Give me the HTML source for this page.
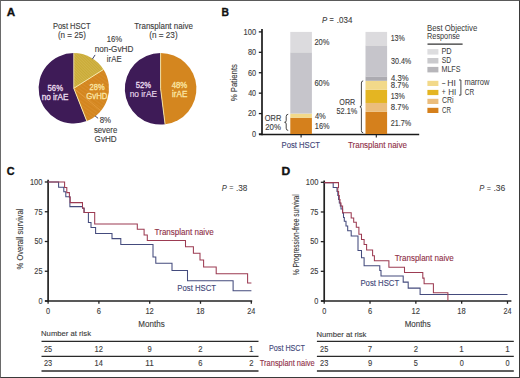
<!DOCTYPE html>
<html><head><meta charset="utf-8">
<style>
html,body{margin:0;padding:0;background:#fff;}
body{width:520px;height:378px;overflow:hidden;position:relative;}
.frame{position:absolute;left:0;top:0;width:518px;height:376px;border:1px solid #555;border-left-color:#6a6a6a;border-top-color:#5a5a5a;border-right-color:#3a3a3a;border-bottom-color:#3a3a3a;}
svg{position:absolute;left:0;top:0;}
svg text{font-family:"Liberation Sans", sans-serif;}
</style></head>
<body>
<svg width="520" height="378" viewBox="0 0 520 378">
<rect x="0" y="0" width="520" height="378" fill="#fff"/>
<defs>
<pattern id="hatchO" patternUnits="userSpaceOnUse" width="2" height="2" patternTransform="rotate(45)">
<rect width="2" height="2" fill="#c9aa37"/><rect width="2" height="0.6" fill="#d8bd55"/></pattern>
<pattern id="hatchG" patternUnits="userSpaceOnUse" width="3" height="3" patternTransform="rotate(35)">
<rect width="3" height="3" fill="#d4861f"/><rect width="3" height="0.6" fill="#d99030"/></pattern>
</defs>
<text x="6.81" y="15.90" font-size="11.66" fill="#111" stroke="#111" stroke-width="0.35" font-weight="bold" font-style="normal" text-anchor="start" textLength="8.41" lengthAdjust="spacingAndGlyphs">A</text>
<text x="52.88" y="28.80" font-size="8.48" fill="#3c3c3c" stroke="#3c3c3c" stroke-width="0.12" font-weight="normal" font-style="normal" text-anchor="start" textLength="37.80" lengthAdjust="spacingAndGlyphs">Post HSCT</text>
<text x="57.90" y="37.70" font-size="8.48" fill="#3c3c3c" stroke="#3c3c3c" stroke-width="0.12" font-weight="normal" font-style="normal" text-anchor="start" textLength="27.92" lengthAdjust="spacingAndGlyphs">(n = 25)</text>
<text x="134.22" y="28.80" font-size="8.48" fill="#3c3c3c" stroke="#3c3c3c" stroke-width="0.12" font-weight="normal" font-style="normal" text-anchor="start" textLength="58.63" lengthAdjust="spacingAndGlyphs">Transplant naive</text>
<text x="149.29" y="37.70" font-size="8.48" fill="#3c3c3c" stroke="#3c3c3c" stroke-width="0.12" font-weight="normal" font-style="normal" text-anchor="start" textLength="28.33" lengthAdjust="spacingAndGlyphs">(n = 23)</text>
<path d="M73.80,88.30 L86.76,121.03 A35.2,35.2 0 1 1 73.80,53.10 Z" fill="#3e1b57" />
<path d="M73.80,88.30 L73.80,53.10 A35.2,35.2 0 0 1 103.52,69.44 Z" fill="url(#hatchO)" />
<path d="M73.80,88.30 L103.52,69.44 A35.2,35.2 0 0 1 86.76,121.03 Z" fill="url(#hatchG)" />
<line x1="73.80" y1="88.30" x2="103.52" y2="69.44" stroke="#f7e9a8" stroke-width="1.0"/>
<line x1="73.80" y1="88.30" x2="100.92" y2="110.74" stroke="#e6a040" stroke-width="0.8"/>
<line x1="73.80" y1="88.30" x2="86.76" y2="121.03" stroke="#f7e9a8" stroke-width="1.0"/>
<line x1="73.80" y1="88.30" x2="73.80" y2="53.10" stroke="#f7e9a8" stroke-width="0.8"/>
<path d="M160.60,88.80 L165.09,124.32 A35.8,35.8 0 1 1 160.60,53.00 Z" fill="#3e1b57" />
<path d="M160.60,88.80 L160.60,53.00 A35.8,35.8 0 0 1 165.09,124.32 Z" fill="#d4861f" />
<line x1="160.60" y1="88.80" x2="160.60" y2="53.00" stroke="#f7e9a8" stroke-width="0.9"/>
<line x1="160.60" y1="88.80" x2="165.09" y2="124.32" stroke="#f7e9a8" stroke-width="0.9"/>
<text x="47.59" y="90.90" font-size="8.48" fill="#ecdff0" stroke="#ecdff0" stroke-width="0.3" font-weight="normal" font-style="normal" text-anchor="start" textLength="15.39" lengthAdjust="spacingAndGlyphs">56%</text>
<text x="41.65" y="100.30" font-size="8.48" fill="#ecdff0" stroke="#ecdff0" stroke-width="0.3" font-weight="normal" font-style="normal" text-anchor="start" textLength="26.79" lengthAdjust="spacingAndGlyphs">no irAE</text>
<text x="89.62" y="89.80" font-size="8.48" fill="#fbe6a6" stroke="#fbe6a6" stroke-width="0.3" font-weight="normal" font-style="normal" text-anchor="start" textLength="15.05" lengthAdjust="spacingAndGlyphs">28%</text>
<text x="86.31" y="99.00" font-size="8.48" fill="#fbe6a6" stroke="#fbe6a6" stroke-width="0.3" font-weight="normal" font-style="normal" text-anchor="start" textLength="21.16" lengthAdjust="spacingAndGlyphs">GvHD</text>
<text x="135.69" y="87.80" font-size="8.48" fill="#ecdff0" stroke="#ecdff0" stroke-width="0.3" font-weight="normal" font-style="normal" text-anchor="start" textLength="15.28" lengthAdjust="spacingAndGlyphs">52%</text>
<text x="129.64" y="96.90" font-size="8.48" fill="#ecdff0" stroke="#ecdff0" stroke-width="0.12" font-weight="normal" font-style="normal" text-anchor="start" textLength="27.41" lengthAdjust="spacingAndGlyphs">no irAE</text>
<text x="171.73" y="88.00" font-size="8.48" fill="#fbe6a6" stroke="#fbe6a6" stroke-width="0.3" font-weight="normal" font-style="normal" text-anchor="start" textLength="15.56" lengthAdjust="spacingAndGlyphs">48%</text>
<text x="172.05" y="97.00" font-size="8.48" fill="#fbe6a6" stroke="#fbe6a6" stroke-width="0.3" font-weight="normal" font-style="normal" text-anchor="start" textLength="15.28" lengthAdjust="spacingAndGlyphs">irAE</text>
<text x="106.82" y="42.20" font-size="8.48" fill="#3c3c3c" stroke="#3c3c3c" stroke-width="0.12" font-weight="normal" font-style="normal" text-anchor="start" textLength="15.36" lengthAdjust="spacingAndGlyphs">16%</text>
<text x="94.75" y="51.70" font-size="8.48" fill="#3c3c3c" stroke="#3c3c3c" stroke-width="0.12" font-weight="normal" font-style="normal" text-anchor="start" textLength="38.63" lengthAdjust="spacingAndGlyphs">non-GvHD</text>
<text x="106.87" y="61.60" font-size="8.48" fill="#3c3c3c" stroke="#3c3c3c" stroke-width="0.12" font-weight="normal" font-style="normal" text-anchor="start" textLength="14.75" lengthAdjust="spacingAndGlyphs">irAE</text>
<line x1="92.4" y1="59.1" x2="95.1" y2="54.9" stroke="#2a2f5a" stroke-width="0.9"/>
<text x="99.77" y="122.60" font-size="8.48" fill="#3c3c3c" stroke="#3c3c3c" stroke-width="0.12" font-weight="normal" font-style="normal" text-anchor="start" textLength="11.33" lengthAdjust="spacingAndGlyphs">8%</text>
<text x="93.89" y="133.00" font-size="8.48" fill="#3c3c3c" stroke="#3c3c3c" stroke-width="0.12" font-weight="normal" font-style="normal" text-anchor="start" textLength="23.36" lengthAdjust="spacingAndGlyphs">severe</text>
<text x="94.59" y="141.70" font-size="8.48" fill="#3c3c3c" stroke="#3c3c3c" stroke-width="0.12" font-weight="normal" font-style="normal" text-anchor="start" textLength="22.09" lengthAdjust="spacingAndGlyphs">GvHD</text>
<line x1="95.1" y1="116.0" x2="98.1" y2="118.3" stroke="#2a2f5a" stroke-width="0.9"/>
<text x="221.40" y="15.90" font-size="11.66" fill="#111" stroke="#111" stroke-width="0.35" font-weight="bold" font-style="normal" text-anchor="start" textLength="7.46" lengthAdjust="spacingAndGlyphs">B</text>
<text x="321.97" y="23.00" font-size="8.48" fill="#3c3c3c" stroke="#3c3c3c" stroke-width="0.12" font-weight="normal" font-style="italic" text-anchor="start" textLength="5.19" lengthAdjust="spacingAndGlyphs">P</text>
<text x="329.54" y="22.20" font-size="8.48" fill="#3c3c3c" stroke="#3c3c3c" stroke-width="0.12" font-weight="normal" font-style="normal" text-anchor="start" textLength="4.21" lengthAdjust="spacingAndGlyphs">=</text>
<text x="336.87" y="23.00" font-size="8.48" fill="#3c3c3c" stroke="#3c3c3c" stroke-width="0.12" font-weight="normal" font-style="normal" text-anchor="start" textLength="15.46" lengthAdjust="spacingAndGlyphs">.034</text>
<text transform="rotate(-90)" x="-101.37" y="236.90" font-size="8.37" fill="#3c3c3c" stroke="#3c3c3c" stroke-width="0.12" textLength="37.35" lengthAdjust="spacingAndGlyphs">% Patients</text>
<line x1="262.0" y1="29.0" x2="262.0" y2="135.2" stroke="#1a1a1a" stroke-width="1.7"/>
<line x1="259.0" y1="134.5" x2="419.2" y2="134.5" stroke="#1a1a1a" stroke-width="1.4"/>
<line x1="258.8" y1="134.0" x2="262" y2="134.0" stroke="#1a1a1a" stroke-width="1.3"/>
<text x="252.01" y="136.80" font-size="8.48" fill="#3c3c3c" stroke="#3c3c3c" stroke-width="0.12" font-weight="normal" font-style="normal" text-anchor="start" textLength="4.08" lengthAdjust="spacingAndGlyphs">0</text>
<line x1="258.8" y1="113.58" x2="262" y2="113.58" stroke="#1a1a1a" stroke-width="1.3"/>
<text x="247.93" y="116.38" font-size="8.48" fill="#3c3c3c" stroke="#3c3c3c" stroke-width="0.12" font-weight="normal" font-style="normal" text-anchor="start" textLength="8.16" lengthAdjust="spacingAndGlyphs">20</text>
<line x1="258.8" y1="93.16" x2="262" y2="93.16" stroke="#1a1a1a" stroke-width="1.3"/>
<text x="248.14" y="95.96" font-size="8.48" fill="#3c3c3c" stroke="#3c3c3c" stroke-width="0.12" font-weight="normal" font-style="normal" text-anchor="start" textLength="7.95" lengthAdjust="spacingAndGlyphs">40</text>
<line x1="258.8" y1="72.74" x2="262" y2="72.74" stroke="#1a1a1a" stroke-width="1.3"/>
<text x="247.93" y="75.54" font-size="8.48" fill="#3c3c3c" stroke="#3c3c3c" stroke-width="0.12" font-weight="normal" font-style="normal" text-anchor="start" textLength="8.16" lengthAdjust="spacingAndGlyphs">60</text>
<line x1="258.8" y1="52.32" x2="262" y2="52.32" stroke="#1a1a1a" stroke-width="1.3"/>
<text x="247.99" y="55.12" font-size="8.48" fill="#3c3c3c" stroke="#3c3c3c" stroke-width="0.12" font-weight="normal" font-style="normal" text-anchor="start" textLength="8.10" lengthAdjust="spacingAndGlyphs">80</text>
<line x1="258.8" y1="31.9" x2="262" y2="31.9" stroke="#1a1a1a" stroke-width="1.3"/>
<text x="243.54" y="34.70" font-size="8.48" fill="#3c3c3c" stroke="#3c3c3c" stroke-width="0.12" font-weight="normal" font-style="normal" text-anchor="start" textLength="12.55" lengthAdjust="spacingAndGlyphs">100</text>
<rect x="290.30" y="117.66" width="21.60" height="16.34" fill="#d5801c"/>
<rect x="290.30" y="113.58" width="21.60" height="4.08" fill="#f2d98a"/>
<rect x="290.30" y="52.32" width="21.60" height="61.26" fill="#c6c5cb"/>
<rect x="290.30" y="31.90" width="21.60" height="20.42" fill="#dcdbde"/>
<rect x="365.50" y="111.84" width="21.60" height="22.16" fill="#d5801c"/>
<rect x="365.50" y="102.96" width="21.60" height="8.88" fill="#ebbd7c"/>
<rect x="365.50" y="89.69" width="21.60" height="13.27" fill="#e4b522"/>
<rect x="365.50" y="80.81" width="21.60" height="8.88" fill="#f2d98a"/>
<rect x="365.50" y="76.42" width="21.60" height="4.39" fill="#acabb1"/>
<rect x="365.50" y="45.38" width="21.60" height="31.04" fill="#c6c5cb"/>
<rect x="365.50" y="31.90" width="21.60" height="13.48" fill="#dcdbde"/>
<line x1="301.1" y1="134" x2="301.1" y2="137.4" stroke="#1a1a1a" stroke-width="1.1"/>
<line x1="376.3" y1="134" x2="376.3" y2="137.4" stroke="#1a1a1a" stroke-width="1.1"/>
<text x="281.57" y="147.60" font-size="8.48" fill="#3f4678" stroke="#3f4678" stroke-width="0.12" font-weight="normal" font-style="normal" text-anchor="start" textLength="38.41" lengthAdjust="spacingAndGlyphs">Post HSCT</text>
<text x="347.92" y="147.70" font-size="8.48" fill="#8f3048" stroke="#8f3048" stroke-width="0.12" font-weight="normal" font-style="normal" text-anchor="start" textLength="58.93" lengthAdjust="spacingAndGlyphs">Transplant naive</text>
<text x="314.42" y="44.80" font-size="8.48" fill="#3c3c3c" stroke="#3c3c3c" stroke-width="0.12" font-weight="normal" font-style="normal" text-anchor="start" textLength="15.05" lengthAdjust="spacingAndGlyphs">20%</text>
<text x="314.42" y="85.90" font-size="8.48" fill="#3c3c3c" stroke="#3c3c3c" stroke-width="0.12" font-weight="normal" font-style="normal" text-anchor="start" textLength="15.05" lengthAdjust="spacingAndGlyphs">60%</text>
<text x="314.93" y="118.50" font-size="8.48" fill="#3c3c3c" stroke="#3c3c3c" stroke-width="0.12" font-weight="normal" font-style="normal" text-anchor="start" textLength="10.85" lengthAdjust="spacingAndGlyphs">4%</text>
<text x="314.85" y="128.80" font-size="8.48" fill="#3c3c3c" stroke="#3c3c3c" stroke-width="0.12" font-weight="normal" font-style="normal" text-anchor="start" textLength="14.72" lengthAdjust="spacingAndGlyphs">16%</text>
<text x="264.75" y="120.80" font-size="8.48" fill="#3c3c3c" stroke="#3c3c3c" stroke-width="0.12" font-weight="normal" font-style="normal" text-anchor="start" textLength="16.50" lengthAdjust="spacingAndGlyphs">ORR</text>
<text x="265.21" y="130.10" font-size="8.48" fill="#3c3c3c" stroke="#3c3c3c" stroke-width="0.12" font-weight="normal" font-style="normal" text-anchor="start" textLength="15.68" lengthAdjust="spacingAndGlyphs">20%</text>
<path d="M288.2,114.3 Q286.2,114.3 286.2,116.5 L286.2,120.6 Q286.2,122.3 284.6,122.3 Q286.2,122.3 286.2,124.0 L286.2,128.2 Q286.2,130.4 288.2,130.4" fill="none" stroke="#333" stroke-width="0.9"/>
<text x="390.67" y="41.10" font-size="8.48" fill="#3c3c3c" stroke="#3c3c3c" stroke-width="0.12" font-weight="normal" font-style="normal" text-anchor="start" textLength="14.19" lengthAdjust="spacingAndGlyphs">13%</text>
<text x="390.93" y="63.70" font-size="8.48" fill="#3c3c3c" stroke="#3c3c3c" stroke-width="0.12" font-weight="normal" font-style="normal" text-anchor="start" textLength="20.32" lengthAdjust="spacingAndGlyphs">30.4%</text>
<text x="391.03" y="81.10" font-size="8.48" fill="#3c3c3c" stroke="#3c3c3c" stroke-width="0.12" font-weight="normal" font-style="normal" text-anchor="start" textLength="17.56" lengthAdjust="spacingAndGlyphs">4.3%</text>
<text x="390.87" y="88.20" font-size="8.48" fill="#3c3c3c" stroke="#3c3c3c" stroke-width="0.12" font-weight="normal" font-style="normal" text-anchor="start" textLength="17.72" lengthAdjust="spacingAndGlyphs">8.7%</text>
<text x="390.67" y="99.00" font-size="8.48" fill="#3c3c3c" stroke="#3c3c3c" stroke-width="0.12" font-weight="normal" font-style="normal" text-anchor="start" textLength="14.19" lengthAdjust="spacingAndGlyphs">13%</text>
<text x="390.87" y="110.30" font-size="8.48" fill="#3c3c3c" stroke="#3c3c3c" stroke-width="0.12" font-weight="normal" font-style="normal" text-anchor="start" textLength="17.72" lengthAdjust="spacingAndGlyphs">8.7%</text>
<text x="390.84" y="125.80" font-size="8.48" fill="#3c3c3c" stroke="#3c3c3c" stroke-width="0.12" font-weight="normal" font-style="normal" text-anchor="start" textLength="20.42" lengthAdjust="spacingAndGlyphs">21.7%</text>
<text x="339.36" y="104.70" font-size="8.48" fill="#3c3c3c" stroke="#3c3c3c" stroke-width="0.12" font-weight="normal" font-style="normal" text-anchor="start" textLength="15.88" lengthAdjust="spacingAndGlyphs">ORR</text>
<text x="336.51" y="114.30" font-size="8.48" fill="#3c3c3c" stroke="#3c3c3c" stroke-width="0.12" font-weight="normal" font-style="normal" text-anchor="start" textLength="20.86" lengthAdjust="spacingAndGlyphs">52.1%</text>
<path d="M363.2,80.9 Q361.4,80.9 361.4,83 L361.4,104.8 Q361.4,106.8 359.9,106.8 Q361.4,106.8 361.4,108.8 L361.4,130.7 Q361.4,132.8 363.2,132.8" fill="none" stroke="#333" stroke-width="0.9"/>
<text x="427.06" y="31.00" font-size="8.27" fill="#3c3c3c" stroke="#3c3c3c" stroke-width="0.03" font-weight="normal" font-style="normal" text-anchor="start" textLength="50.17" lengthAdjust="spacingAndGlyphs">Best Objective</text>
<text x="427.10" y="39.00" font-size="8.27" fill="#3c3c3c" stroke="#3c3c3c" stroke-width="0.03" font-weight="normal" font-style="normal" text-anchor="start" textLength="32.81" lengthAdjust="spacingAndGlyphs">Response</text>
<line x1="427.5" y1="44.2" x2="462.6" y2="44.2" stroke="#333" stroke-width="1.2"/>
<rect x="427.40" y="49.10" width="11.00" height="5.50" fill="#dddddf"/>
<text x="441.39" y="53.90" font-size="8.37" fill="#3c3c3c" stroke="#3c3c3c" stroke-width="0.03" font-weight="normal" font-style="normal" text-anchor="start" textLength="10.25" lengthAdjust="spacingAndGlyphs">PD</text>
<rect x="427.40" y="58.00" width="11.00" height="5.50" fill="#cacacd"/>
<text x="441.69" y="62.90" font-size="8.37" fill="#3c3c3c" stroke="#3c3c3c" stroke-width="0.03" font-weight="normal" font-style="normal" text-anchor="start" textLength="9.42" lengthAdjust="spacingAndGlyphs">SD</text>
<rect x="427.40" y="66.90" width="11.00" height="5.50" fill="#b7b6ba"/>
<text x="441.41" y="71.90" font-size="8.37" fill="#3c3c3c" stroke="#3c3c3c" stroke-width="0.03" font-weight="normal" font-style="normal" text-anchor="start" textLength="19.13" lengthAdjust="spacingAndGlyphs">MLFS</text>
<rect x="427.40" y="80.80" width="11.00" height="5.20" fill="#f2d98a"/>
<rect x="427.40" y="89.90" width="11.00" height="5.20" fill="#e4b522"/>
<rect x="427.40" y="98.80" width="11.00" height="5.20" fill="#ebbd7c"/>
<rect x="427.40" y="107.80" width="11.00" height="5.20" fill="#d5801c"/>
<text x="442.00" y="85.60" font-size="8.37" fill="#3c3c3c" stroke="#3c3c3c" stroke-width="0.03" font-weight="normal" font-style="normal" text-anchor="start" textLength="3.31" lengthAdjust="spacingAndGlyphs">–</text>
<text x="447.19" y="85.60" font-size="8.37" fill="#3c3c3c" stroke="#3c3c3c" stroke-width="0.03" font-weight="normal" font-style="normal" text-anchor="start" textLength="8.61" lengthAdjust="spacingAndGlyphs">HI</text>
<text x="441.66" y="94.80" font-size="8.37" fill="#3c3c3c" stroke="#3c3c3c" stroke-width="0.03" font-weight="normal" font-style="normal" text-anchor="start" textLength="3.97" lengthAdjust="spacingAndGlyphs">+</text>
<text x="448.34" y="94.80" font-size="8.37" fill="#3c3c3c" stroke="#3c3c3c" stroke-width="0.03" font-weight="normal" font-style="normal" text-anchor="start" textLength="8.00" lengthAdjust="spacingAndGlyphs">HI</text>
<text x="441.95" y="103.40" font-size="8.37" fill="#3c3c3c" stroke="#3c3c3c" stroke-width="0.03" font-weight="normal" font-style="normal" text-anchor="start" textLength="11.61" lengthAdjust="spacingAndGlyphs">CRi</text>
<text x="441.99" y="112.50" font-size="8.37" fill="#3c3c3c" stroke="#3c3c3c" stroke-width="0.03" font-weight="normal" font-style="normal" text-anchor="start" textLength="9.00" lengthAdjust="spacingAndGlyphs">CR</text>
<path d="M459.0,80.0 L460.9,80.0 L460.9,95.1 L459.0,95.1" fill="none" stroke="#333" stroke-width="0.9"/>
<text x="464.39" y="85.40" font-size="8.37" fill="#3c3c3c" stroke="#3c3c3c" stroke-width="0.03" font-weight="normal" font-style="normal" text-anchor="start" textLength="25.08" lengthAdjust="spacingAndGlyphs">marrow</text>
<text x="464.77" y="94.80" font-size="8.37" fill="#3c3c3c" stroke="#3c3c3c" stroke-width="0.03" font-weight="normal" font-style="normal" text-anchor="start" textLength="9.43" lengthAdjust="spacingAndGlyphs">CR</text>
<text x="6.67" y="174.90" font-size="11.66" fill="#111" stroke="#111" stroke-width="0.35" font-weight="bold" font-style="normal" text-anchor="start" textLength="7.83" lengthAdjust="spacingAndGlyphs">C</text>
<line x1="48.1" y1="179.8" x2="48.1" y2="301.8" stroke="#222" stroke-width="1.7"/>
<line x1="45.0" y1="301.0" x2="252.2" y2="301.0" stroke="#222" stroke-width="1.6"/>
<line x1="44.8" y1="301.0" x2="48.1" y2="301.0" stroke="#222" stroke-width="1.3"/>
<text x="38.41" y="303.80" font-size="8.37" fill="#3c3c3c" stroke="#3c3c3c" stroke-width="0.12" font-weight="normal" font-style="normal" text-anchor="start" textLength="4.08" lengthAdjust="spacingAndGlyphs">0</text>
<line x1="44.8" y1="271.25" x2="48.1" y2="271.25" stroke="#222" stroke-width="1.3"/>
<text x="34.33" y="274.05" font-size="8.37" fill="#3c3c3c" stroke="#3c3c3c" stroke-width="0.12" font-weight="normal" font-style="normal" text-anchor="start" textLength="8.18" lengthAdjust="spacingAndGlyphs">25</text>
<line x1="44.8" y1="241.5" x2="48.1" y2="241.5" stroke="#222" stroke-width="1.3"/>
<text x="34.41" y="244.30" font-size="8.37" fill="#3c3c3c" stroke="#3c3c3c" stroke-width="0.12" font-weight="normal" font-style="normal" text-anchor="start" textLength="8.08" lengthAdjust="spacingAndGlyphs">50</text>
<line x1="44.8" y1="211.75" x2="48.1" y2="211.75" stroke="#222" stroke-width="1.3"/>
<text x="34.31" y="214.55" font-size="8.37" fill="#3c3c3c" stroke="#3c3c3c" stroke-width="0.12" font-weight="normal" font-style="normal" text-anchor="start" textLength="8.20" lengthAdjust="spacingAndGlyphs">75</text>
<line x1="44.8" y1="182.0" x2="48.1" y2="182.0" stroke="#222" stroke-width="1.3"/>
<text x="29.94" y="184.80" font-size="8.37" fill="#3c3c3c" stroke="#3c3c3c" stroke-width="0.12" font-weight="normal" font-style="normal" text-anchor="start" textLength="12.55" lengthAdjust="spacingAndGlyphs">100</text>
<line x1="48.1" y1="301.0" x2="48.1" y2="303.8" stroke="#222" stroke-width="1.3"/>
<text x="46.06" y="314.00" font-size="8.37" fill="#3c3c3c" stroke="#3c3c3c" stroke-width="0.12" font-weight="normal" font-style="normal" text-anchor="start" textLength="4.08" lengthAdjust="spacingAndGlyphs">0</text>
<line x1="98.9" y1="301.0" x2="98.9" y2="303.8" stroke="#222" stroke-width="1.3"/>
<text x="96.77" y="314.00" font-size="8.37" fill="#3c3c3c" stroke="#3c3c3c" stroke-width="0.12" font-weight="normal" font-style="normal" text-anchor="start" textLength="4.21" lengthAdjust="spacingAndGlyphs">6</text>
<line x1="149.7" y1="301.0" x2="149.7" y2="303.8" stroke="#222" stroke-width="1.3"/>
<text x="145.38" y="314.00" font-size="8.37" fill="#3c3c3c" stroke="#3c3c3c" stroke-width="0.12" font-weight="normal" font-style="normal" text-anchor="start" textLength="8.47" lengthAdjust="spacingAndGlyphs">12</text>
<line x1="200.5" y1="301.0" x2="200.5" y2="303.8" stroke="#222" stroke-width="1.3"/>
<text x="196.18" y="314.00" font-size="8.37" fill="#3c3c3c" stroke="#3c3c3c" stroke-width="0.12" font-weight="normal" font-style="normal" text-anchor="start" textLength="8.41" lengthAdjust="spacingAndGlyphs">18</text>
<line x1="251.3" y1="301.0" x2="251.3" y2="303.8" stroke="#222" stroke-width="1.3"/>
<text x="247.19" y="314.00" font-size="8.37" fill="#3c3c3c" stroke="#3c3c3c" stroke-width="0.12" font-weight="normal" font-style="normal" text-anchor="start" textLength="8.08" lengthAdjust="spacingAndGlyphs">24</text>
<text transform="rotate(-90)" x="-269.47" y="23.30" font-size="8.59" fill="#3c3c3c" stroke="#3c3c3c" stroke-width="0.12" textLength="60.78" lengthAdjust="spacingAndGlyphs">% Overall survival</text>
<text x="138.34" y="327.40" font-size="9.33" fill="#3c3c3c" stroke="#3c3c3c" stroke-width="0.12" font-weight="normal" font-style="normal" text-anchor="start" textLength="26.34" lengthAdjust="spacingAndGlyphs">Months</text>
<text x="221.77" y="191.00" font-size="8.37" fill="#3c3c3c" stroke="#3c3c3c" stroke-width="0.05" font-weight="normal" font-style="italic" text-anchor="start" textLength="5.08" lengthAdjust="spacingAndGlyphs">P</text>
<text x="229.24" y="190.20" font-size="8.37" fill="#3c3c3c" stroke="#3c3c3c" stroke-width="0.05" font-weight="normal" font-style="normal" text-anchor="start" textLength="4.21" lengthAdjust="spacingAndGlyphs">=</text>
<text x="236.04" y="191.00" font-size="8.37" fill="#3c3c3c" stroke="#3c3c3c" stroke-width="0.05" font-weight="normal" font-style="normal" text-anchor="start" textLength="11.41" lengthAdjust="spacingAndGlyphs">.38</text>
<text x="154.62" y="235.20" font-size="8.37" fill="#8f3048" stroke="#8f3048" stroke-width="0.12" font-weight="normal" font-style="normal" text-anchor="start" textLength="59.03" lengthAdjust="spacingAndGlyphs">Transplant naive</text>
<text x="177.36" y="291.30" font-size="8.37" fill="#3f4678" stroke="#3f4678" stroke-width="0.12" font-weight="normal" font-style="normal" text-anchor="start" textLength="38.72" lengthAdjust="spacingAndGlyphs">Post HSCT</text>
<path d="M48.2,182.0 H58.6 V187.3 H63.8 V191.8 H65.8 V196.8 H69.9 V206.6 H82.5 V208.3 H84.2 V212.4 H88.4 V222.4 H91.0 V227.4 H95.6 V233.4 H112.0 V238.6 H120.8 V244.5 H153.0 V257.0 H155.8 V263.3 H172.0 V270.5 H187.5 V280.8 H233.1 V290.7 H251.4" fill="none" stroke="#444b7d" stroke-width="1.05"/>
<path d="M48.2,182.0 H64.6 V187.5 H66.8 V192.6 H69.4 V197.1 H70.2 V202.6 H82.5 V207.9 H83.9 V212.4 H94.7 V224.0 H137.3 V229.3 H144.1 V234.9 H147.3 V240.4 H185.5 V246.7 H193.4 V253.2 H200.0 V259.9 H203.6 V266.9 H216.2 V273.8 H247.6 V283.0 H251.4" fill="none" stroke="#9c3b52" stroke-width="1.05"/>
<text x="41.07" y="336.40" font-size="7.74" fill="#3c3c3c" stroke="#3c3c3c" stroke-width="0.12" font-weight="normal" font-style="normal" text-anchor="start" textLength="49.93" lengthAdjust="spacingAndGlyphs">Number at risk</text>
<line x1="41.5" y1="341.3" x2="258.5" y2="341.3" stroke="#2a2a2a" stroke-width="1.3"/>
<line x1="41.5" y1="356.3" x2="258.5" y2="356.3" stroke="#2a2a2a" stroke-width="1.3"/>
<line x1="41.5" y1="371.0" x2="258.5" y2="371.0" stroke="#2a2a2a" stroke-width="1.3"/>
<text x="43.98" y="351.50" font-size="8.37" fill="#3c3c3c" stroke="#3c3c3c" stroke-width="0.12" font-weight="normal" font-style="normal" text-anchor="start" textLength="8.18" lengthAdjust="spacingAndGlyphs">25</text>
<text x="43.98" y="366.40" font-size="8.37" fill="#3c3c3c" stroke="#3c3c3c" stroke-width="0.12" font-weight="normal" font-style="normal" text-anchor="start" textLength="8.20" lengthAdjust="spacingAndGlyphs">23</text>
<text x="94.58" y="351.50" font-size="8.37" fill="#3c3c3c" stroke="#3c3c3c" stroke-width="0.12" font-weight="normal" font-style="normal" text-anchor="start" textLength="8.47" lengthAdjust="spacingAndGlyphs">12</text>
<text x="94.59" y="366.40" font-size="8.37" fill="#3c3c3c" stroke="#3c3c3c" stroke-width="0.12" font-weight="normal" font-style="normal" text-anchor="start" textLength="8.28" lengthAdjust="spacingAndGlyphs">14</text>
<text x="147.59" y="351.50" font-size="8.37" fill="#3c3c3c" stroke="#3c3c3c" stroke-width="0.12" font-weight="normal" font-style="normal" text-anchor="start" textLength="4.21" lengthAdjust="spacingAndGlyphs">9</text>
<text x="145.34" y="366.40" font-size="8.37" fill="#3c3c3c" stroke="#3c3c3c" stroke-width="0.12" font-weight="normal" font-style="normal" text-anchor="start" textLength="8.51" lengthAdjust="spacingAndGlyphs">11</text>
<text x="198.37" y="351.50" font-size="8.37" fill="#3c3c3c" stroke="#3c3c3c" stroke-width="0.12" font-weight="normal" font-style="normal" text-anchor="start" textLength="4.28" lengthAdjust="spacingAndGlyphs">2</text>
<text x="198.37" y="366.40" font-size="8.37" fill="#3c3c3c" stroke="#3c3c3c" stroke-width="0.12" font-weight="normal" font-style="normal" text-anchor="start" textLength="4.21" lengthAdjust="spacingAndGlyphs">6</text>
<text x="248.94" y="351.50" font-size="8.37" fill="#3c3c3c" stroke="#3c3c3c" stroke-width="0.12" font-weight="normal" font-style="normal" text-anchor="start" textLength="4.50" lengthAdjust="spacingAndGlyphs">1</text>
<text x="249.17" y="366.40" font-size="8.37" fill="#3c3c3c" stroke="#3c3c3c" stroke-width="0.12" font-weight="normal" font-style="normal" text-anchor="start" textLength="4.28" lengthAdjust="spacingAndGlyphs">2</text>
<text x="269.01" y="351.30" font-size="8.37" fill="#3f4678" stroke="#3f4678" stroke-width="0.12" font-weight="normal" font-style="normal" text-anchor="start" textLength="35.96" lengthAdjust="spacingAndGlyphs">Post HSCT</text>
<text x="259.83" y="366.20" font-size="8.37" fill="#8f3048" stroke="#8f3048" stroke-width="0.12" font-weight="normal" font-style="normal" text-anchor="start" textLength="54.89" lengthAdjust="spacingAndGlyphs">Transplant naive</text>
<text x="281.58" y="174.80" font-size="11.66" fill="#111" stroke="#111" stroke-width="0.35" font-weight="bold" font-style="normal" text-anchor="start" textLength="8.73" lengthAdjust="spacingAndGlyphs">D</text>
<line x1="324.2" y1="180.5" x2="324.2" y2="301.8" stroke="#222" stroke-width="1.7"/>
<line x1="321.0" y1="301.0" x2="511.4" y2="301.0" stroke="#222" stroke-width="1.6"/>
<line x1="320.8" y1="301.0" x2="324.2" y2="301.0" stroke="#222" stroke-width="1.3"/>
<text x="314.31" y="303.80" font-size="8.37" fill="#3c3c3c" stroke="#3c3c3c" stroke-width="0.12" font-weight="normal" font-style="normal" text-anchor="start" textLength="4.08" lengthAdjust="spacingAndGlyphs">0</text>
<line x1="320.8" y1="271.32" x2="324.2" y2="271.32" stroke="#222" stroke-width="1.3"/>
<text x="310.23" y="274.12" font-size="8.37" fill="#3c3c3c" stroke="#3c3c3c" stroke-width="0.12" font-weight="normal" font-style="normal" text-anchor="start" textLength="8.18" lengthAdjust="spacingAndGlyphs">25</text>
<line x1="320.8" y1="241.65" x2="324.2" y2="241.65" stroke="#222" stroke-width="1.3"/>
<text x="310.31" y="244.45" font-size="8.37" fill="#3c3c3c" stroke="#3c3c3c" stroke-width="0.12" font-weight="normal" font-style="normal" text-anchor="start" textLength="8.08" lengthAdjust="spacingAndGlyphs">50</text>
<line x1="320.8" y1="211.98" x2="324.2" y2="211.98" stroke="#222" stroke-width="1.3"/>
<text x="310.21" y="214.78" font-size="8.37" fill="#3c3c3c" stroke="#3c3c3c" stroke-width="0.12" font-weight="normal" font-style="normal" text-anchor="start" textLength="8.20" lengthAdjust="spacingAndGlyphs">75</text>
<line x1="320.8" y1="182.3" x2="324.2" y2="182.3" stroke="#222" stroke-width="1.3"/>
<text x="305.84" y="185.10" font-size="8.37" fill="#3c3c3c" stroke="#3c3c3c" stroke-width="0.12" font-weight="normal" font-style="normal" text-anchor="start" textLength="12.55" lengthAdjust="spacingAndGlyphs">100</text>
<line x1="324.2" y1="301.0" x2="324.2" y2="303.8" stroke="#222" stroke-width="1.3"/>
<text x="322.16" y="314.00" font-size="8.37" fill="#3c3c3c" stroke="#3c3c3c" stroke-width="0.12" font-weight="normal" font-style="normal" text-anchor="start" textLength="4.08" lengthAdjust="spacingAndGlyphs">0</text>
<line x1="370.02" y1="301.0" x2="370.02" y2="303.8" stroke="#222" stroke-width="1.3"/>
<text x="367.90" y="314.00" font-size="8.37" fill="#3c3c3c" stroke="#3c3c3c" stroke-width="0.12" font-weight="normal" font-style="normal" text-anchor="start" textLength="4.21" lengthAdjust="spacingAndGlyphs">6</text>
<line x1="415.85" y1="301.0" x2="415.85" y2="303.8" stroke="#222" stroke-width="1.3"/>
<text x="411.53" y="314.00" font-size="8.37" fill="#3c3c3c" stroke="#3c3c3c" stroke-width="0.12" font-weight="normal" font-style="normal" text-anchor="start" textLength="8.47" lengthAdjust="spacingAndGlyphs">12</text>
<line x1="461.67" y1="301.0" x2="461.67" y2="303.8" stroke="#222" stroke-width="1.3"/>
<text x="457.36" y="314.00" font-size="8.37" fill="#3c3c3c" stroke="#3c3c3c" stroke-width="0.12" font-weight="normal" font-style="normal" text-anchor="start" textLength="8.41" lengthAdjust="spacingAndGlyphs">18</text>
<line x1="507.5" y1="301.0" x2="507.5" y2="303.8" stroke="#222" stroke-width="1.3"/>
<text x="503.39" y="314.00" font-size="8.37" fill="#3c3c3c" stroke="#3c3c3c" stroke-width="0.12" font-weight="normal" font-style="normal" text-anchor="start" textLength="8.08" lengthAdjust="spacingAndGlyphs">24</text>
<text transform="rotate(-90)" x="-275.33" y="298.60" font-size="8.59" fill="#3c3c3c" stroke="#3c3c3c" stroke-width="0.12" textLength="80.97" lengthAdjust="spacingAndGlyphs">% Progression-free survival</text>
<text x="404.64" y="327.30" font-size="9.33" fill="#3c3c3c" stroke="#3c3c3c" stroke-width="0.12" font-weight="normal" font-style="normal" text-anchor="start" textLength="26.13" lengthAdjust="spacingAndGlyphs">Months</text>
<text x="479.17" y="191.40" font-size="8.37" fill="#3c3c3c" stroke="#3c3c3c" stroke-width="0.05" font-weight="normal" font-style="italic" text-anchor="start" textLength="5.08" lengthAdjust="spacingAndGlyphs">P</text>
<text x="486.64" y="190.60" font-size="8.37" fill="#3c3c3c" stroke="#3c3c3c" stroke-width="0.05" font-weight="normal" font-style="normal" text-anchor="start" textLength="4.21" lengthAdjust="spacingAndGlyphs">=</text>
<text x="493.40" y="191.40" font-size="8.37" fill="#3c3c3c" stroke="#3c3c3c" stroke-width="0.05" font-weight="normal" font-style="normal" text-anchor="start" textLength="11.96" lengthAdjust="spacingAndGlyphs">.36</text>
<text x="394.72" y="260.70" font-size="8.37" fill="#8f3048" stroke="#8f3048" stroke-width="0.12" font-weight="normal" font-style="normal" text-anchor="start" textLength="58.93" lengthAdjust="spacingAndGlyphs">Transplant naive</text>
<text x="360.46" y="285.90" font-size="8.37" fill="#3f4678" stroke="#3f4678" stroke-width="0.12" font-weight="normal" font-style="normal" text-anchor="start" textLength="38.72" lengthAdjust="spacingAndGlyphs">Post HSCT</text>
<path d="M324.2,182.6 H333.2 V187.4 H337.0 V191.5 H337.8 V195.5 H338.6 V199.5 H339.3 V203 H340.3 V206 H341.0 V209 H342.6 V213.0 H343.5 V217.5 H344.3 V221.3 H346.0 V226.0 H347.7 V230.8 H351.2 V235.9 H358.0 V250.5 H361.5 V257.8 H364.1 V265.8 H379.8 V270.5 H381.0 V276.0 H403.2 V282.1 H408.2 V288.1 H420.1 V294.4 H507.5" fill="none" stroke="#444b7d" stroke-width="1.05"/>
<path d="M324.2,182.6 H338.5 V187.4 H337.8 V191.5 H338.6 V195.5 H339.3 V199.5 H340.0 V203 H341.0 V206 H342.6 V212.7 H351.2 V217.9 H353.7 V222.2 H356.3 V227.3 H358.9 V234.2 H361.5 V239.4 H364.1 V244.5 H366.6 V250.0 H372.6 V255.7 H374.4 V260.8 H388.9 V267.2 H404.5 V272.5 H422.8 V278.1 H424.1 V283.8 H433.4 V292.7 H447.9 V300.8" fill="none" stroke="#9c3b52" stroke-width="1.05"/>
<text x="316.47" y="336.60" font-size="7.74" fill="#3c3c3c" stroke="#3c3c3c" stroke-width="0.12" font-weight="normal" font-style="normal" text-anchor="start" textLength="49.93" lengthAdjust="spacingAndGlyphs">Number at risk</text>
<line x1="316.9" y1="341.3" x2="513.8" y2="341.3" stroke="#2a2a2a" stroke-width="1.3"/>
<line x1="316.9" y1="356.3" x2="513.8" y2="356.3" stroke="#2a2a2a" stroke-width="1.3"/>
<line x1="316.9" y1="371.0" x2="513.8" y2="371.0" stroke="#2a2a2a" stroke-width="1.3"/>
<text x="320.08" y="351.50" font-size="8.37" fill="#3c3c3c" stroke="#3c3c3c" stroke-width="0.12" font-weight="normal" font-style="normal" text-anchor="start" textLength="8.18" lengthAdjust="spacingAndGlyphs">25</text>
<text x="320.08" y="366.40" font-size="8.37" fill="#3c3c3c" stroke="#3c3c3c" stroke-width="0.12" font-weight="normal" font-style="normal" text-anchor="start" textLength="8.20" lengthAdjust="spacingAndGlyphs">23</text>
<text x="367.87" y="351.50" font-size="8.37" fill="#3c3c3c" stroke="#3c3c3c" stroke-width="0.12" font-weight="normal" font-style="normal" text-anchor="start" textLength="4.30" lengthAdjust="spacingAndGlyphs">7</text>
<text x="367.92" y="366.40" font-size="8.37" fill="#3c3c3c" stroke="#3c3c3c" stroke-width="0.12" font-weight="normal" font-style="normal" text-anchor="start" textLength="4.21" lengthAdjust="spacingAndGlyphs">9</text>
<text x="413.72" y="351.50" font-size="8.37" fill="#3c3c3c" stroke="#3c3c3c" stroke-width="0.12" font-weight="normal" font-style="normal" text-anchor="start" textLength="4.28" lengthAdjust="spacingAndGlyphs">2</text>
<text x="413.81" y="366.40" font-size="8.37" fill="#3c3c3c" stroke="#3c3c3c" stroke-width="0.12" font-weight="normal" font-style="normal" text-anchor="start" textLength="4.10" lengthAdjust="spacingAndGlyphs">5</text>
<text x="459.32" y="351.50" font-size="8.37" fill="#3c3c3c" stroke="#3c3c3c" stroke-width="0.12" font-weight="normal" font-style="normal" text-anchor="start" textLength="4.50" lengthAdjust="spacingAndGlyphs">1</text>
<text x="459.63" y="366.40" font-size="8.37" fill="#3c3c3c" stroke="#3c3c3c" stroke-width="0.12" font-weight="normal" font-style="normal" text-anchor="start" textLength="4.08" lengthAdjust="spacingAndGlyphs">0</text>
<text x="505.14" y="351.50" font-size="8.37" fill="#3c3c3c" stroke="#3c3c3c" stroke-width="0.12" font-weight="normal" font-style="normal" text-anchor="start" textLength="4.50" lengthAdjust="spacingAndGlyphs">1</text>
<text x="505.46" y="366.40" font-size="8.37" fill="#3c3c3c" stroke="#3c3c3c" stroke-width="0.12" font-weight="normal" font-style="normal" text-anchor="start" textLength="4.08" lengthAdjust="spacingAndGlyphs">0</text>
</svg>
<div class="frame"></div>
</body></html>
